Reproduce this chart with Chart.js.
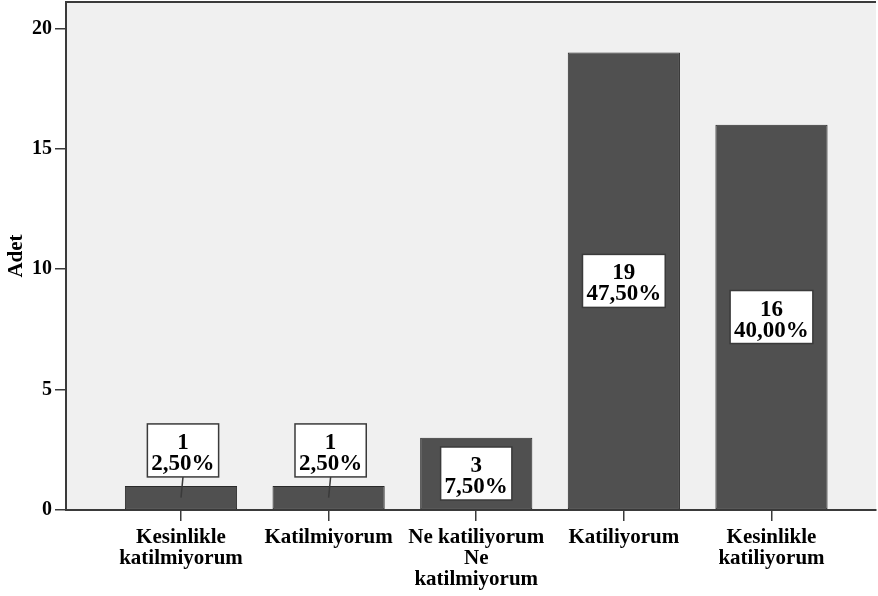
<!DOCTYPE html>
<html>
<head>
<meta charset="utf-8">
<script src="https://cdn.jsdelivr.net/npm/chart.js@4.4.1/dist/chart.umd.min.js"></script>
<style>
html, body { margin: 0; padding: 0; background: #fff; }
</style>
</head>
<body>
<canvas id="chart" width="878" height="596"></canvas>
<script>
// Data
const categories = [
    ['Kesinlikle', 'katilmiyorum'],
    ['Katilmiyorum'],
    ['Ne katiliyorum', 'Ne', 'katilmiyorum'],
    ['Katiliyorum'],
    ['Kesinlikle', 'katiliyorum']
];
const counts = [1, 1, 3, 19, 16];
const percents = ['2,50%', '2,50%', '7,50%', '47,50%', '40,00%'];
const yTicks = [0, 5, 10, 15, 20];

const serif = '"Liberation Serif", "Times New Roman", serif';
const frameColor = '#3a3a3a';

// light gray plot background + top frame line
const framePlugin = {
    id: 'frame',
    beforeDraw(chart) {
        const { ctx, chartArea: a } = chart;
        ctx.save();
        ctx.fillStyle = '#f0f0f0';
        ctx.fillRect(a.left, a.top, a.right - a.left, a.bottom - a.top);
        ctx.restore();
    },
    afterDraw(chart) {
        const { ctx, chartArea: a } = chart;
        ctx.save();
        ctx.strokeStyle = frameColor;
        ctx.lineWidth = 2;
        ctx.beginPath();
        ctx.moveTo(a.left, a.top);
        ctx.lineTo(a.right, a.top);
        ctx.stroke();
        ctx.restore();
    }
};

// SPSS style boxed labels: count + percent
const boxLabels = {
    id: 'boxLabels',
    afterDatasetsDraw(chart) {
        const ctx = chart.ctx;
        const meta = chart.getDatasetMeta(0);
        ctx.save();
        ctx.font = 'bold 23px ' + serif;
        meta.data.forEach((bar, i) => {
            const lines = [String(counts[i]), percents[i]];
            const w = Math.max(...lines.map(t => ctx.measureText(t).width)) + 8;
            const h = 53;
            const midY = (bar.y + bar.base) / 2;
            let cx = bar.x;
            let top = midY - h / 2;
            const inside = (bar.base - bar.y) > h + 8;
            if (!inside) {
                cx = bar.x + 2;
                top = bar.y - 9 - h;
                ctx.strokeStyle = frameColor;
                ctx.lineWidth = 1.5;
                ctx.beginPath();
                ctx.moveTo(cx, top + h);
                ctx.lineTo(bar.x, midY);
                ctx.stroke();
            }
            ctx.fillStyle = '#fff';
            ctx.fillRect(cx - w / 2, top, w, h);
            ctx.strokeStyle = frameColor;
            ctx.lineWidth = 1.5;
            ctx.strokeRect(cx - w / 2, top, w, h);
            ctx.fillStyle = '#000';
            ctx.textAlign = 'center';
            ctx.textBaseline = 'alphabetic';
            ctx.fillText(lines[0], cx, top + 25);
            ctx.fillText(lines[1], cx, top + 46);
        });
        ctx.restore();
    }
};

new Chart(document.getElementById('chart'), {
    type: 'bar',
    data: {
        datasets: [{
            data: counts.map((v, i) => ({ x: i + 1, y: v })),
            backgroundColor: '#505050',
            borderColor: '#2a2a2a',
            borderWidth: 1,
            borderSkipped: false,
            barPercentage: 0.76,
            categoryPercentage: 1
        }]
    },
    options: {
        responsive: false,
        animation: false,
        devicePixelRatio: 1,
        layout: { padding: { top: 2, right: 2, left: 0, bottom: 0 } },
        plugins: {
            legend: { display: false },
            tooltip: { enabled: false }
        },
        scales: {
            x: {
                type: 'linear',
                min: 0.221,
                max: 5.708,
                offset: false,
                afterBuildTicks: (scale) => {
                    scale.ticks = categories.map((c, i) => ({ value: i + 1 }));
                },
                afterFit: (scale) => {
                    scale.height = 86;
                    scale.paddingLeft = 0;
                    scale.paddingRight = 0;
                },
                ticks: {
                    autoSkip: false,
                    maxRotation: 0,
                    padding: 6,
                    color: '#000',
                    font: { family: serif, size: 21, weight: 'bold', lineHeight: 1 },
                    callback: (value) => categories[value - 1]
                },
                grid: {
                    offset: false,
                    drawOnChartArea: false,
                    tickLength: 11,
                    color: frameColor,
                    lineWidth: 1.5
                },
                border: { display: true, color: frameColor, width: 2 }
            },
            y: {
                min: 0,
                max: 21.1,
                afterBuildTicks: (scale) => {
                    scale.ticks = yTicks.map(v => ({ value: v }));
                },
                afterFit: (scale) => {
                    scale.width = 66;
                    scale.paddingTop = 0;
                    scale.paddingBottom = 0;
                },
                ticks: {
                    padding: 3,
                    color: '#000',
                    font: { family: serif, size: 20, weight: 'bold' }
                },
                grid: {
                    drawOnChartArea: false,
                    tickLength: 11,
                    color: frameColor,
                    lineWidth: 1.5
                },
                border: { display: true, color: frameColor, width: 2 },
                title: {
                    display: true,
                    text: 'Adet',
                    color: '#000',
                    padding: { top: 6, bottom: 0 },
                    font: { family: serif, size: 21, weight: 'bold', lineHeight: 1 }
                }
            }
        }
    },
    plugins: [framePlugin, boxLabels]
});
</script>
</body>
</html>
